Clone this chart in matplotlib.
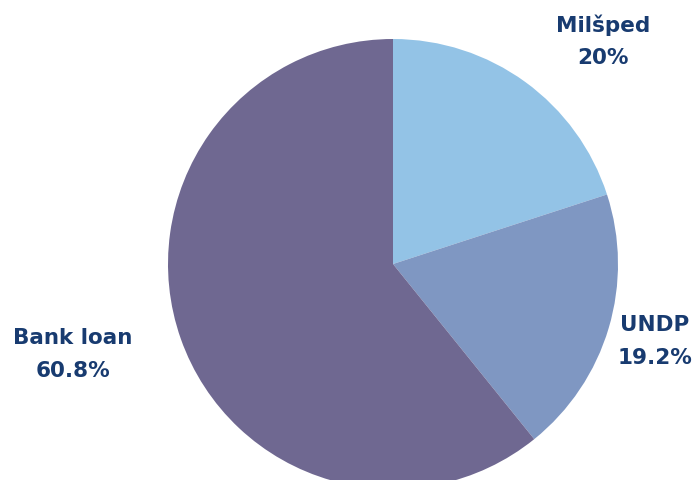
import matplotlib
matplotlib.use("Agg")
import matplotlib.pyplot as plt

labels = ["Milšped", "UNDP", "Bank loan"]
shares = [20, 19.2, 60.8]
share_text = ["20%", "19.2%", "60.8%"]
colors = ["#93C3E6", "#7F97C2", "#6F6891"]

# label anchor points in pixels (x, y of first line centre)
label_px = [(603, 25), (655, 325), (73, 338)]

W, H = 693, 481
cx, cy, r = 393, 265, 225

fig = plt.figure(figsize=(W / 100, H / 100), dpi=100)
ax = fig.add_axes([0, 0, 1, 1])

ax.pie(shares, colors=colors, startangle=90, counterclock=False,
       radius=1, center=(0, 0), wedgeprops=dict(linewidth=0))

ax.set_xlim(-cx / r, (W - cx) / r)
ax.set_ylim(-(H - cy) / r, cy / r)
ax.set_aspect("equal")
ax.axis("off")

navy = "#183B70"
for name, pct, (px, py) in zip(labels, share_text, label_px):
    x = (px - cx) / r
    y1 = (cy - py) / r
    y2 = (cy - py - 33) / r
    ax.text(x, y1, name, ha="center", va="center", fontsize=15.5,
            fontweight="bold", color=navy, family="DejaVu Sans")
    ax.text(x, y2, pct, ha="center", va="center", fontsize=15.5,
            fontweight="bold", color=navy, family="DejaVu Sans")

fig.savefig("out.png", dpi=100)
